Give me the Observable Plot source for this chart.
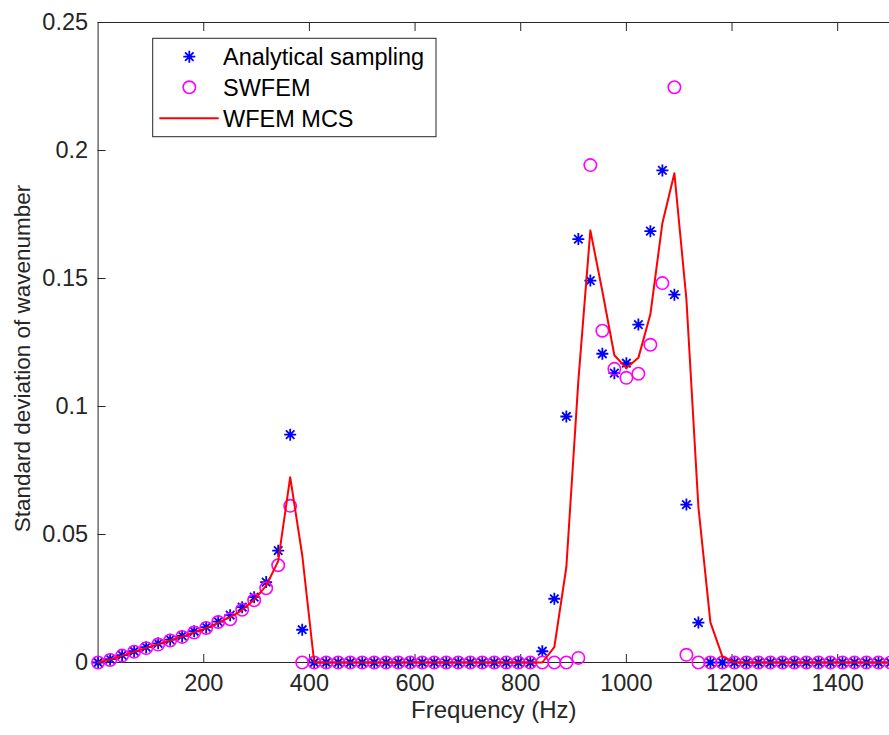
<!DOCTYPE html>
<html><head><meta charset="utf-8">
<script src="https://cdn.jsdelivr.net/npm/d3@7"></script>
<script src="https://cdn.jsdelivr.net/npm/@observablehq/plot@0.6"></script>
<style>
html,body{margin:0;padding:0;background:#fff;}
#chart{position:relative;width:889px;height:735px;overflow:hidden;}
</style></head><body><div id="chart"></div>
<script>
// Frequency grid (Hz)
const freq = [0, 22.73, 45.45, 68.18, 90.91, 113.64, 136.36, 159.09, 181.82, 204.55,
  227.27, 250, 272.73, 295.45, 318.18, 340.91, 363.64, 386.36, 409.09, 431.82,
  454.55, 477.27, 500, 522.73, 545.45, 568.18, 590.91, 613.64, 636.36, 659.09,
  681.82, 704.55, 727.27, 750, 772.73, 795.45, 818.18, 840.91, 863.64, 886.36,
  909.09, 931.82, 954.55, 977.27, 1000, 1022.73, 1045.45, 1068.18, 1090.91, 1113.64,
  1136.36, 1159.09, 1181.82, 1204.55, 1227.27, 1250, 1272.73, 1295.45, 1318.18, 1340.91,
  1363.64, 1386.36, 1409.09, 1431.82, 1454.55, 1477.27, 1500];

// Analytical sampling (blue asterisks)
const analytical = [0, 0.0013, 0.0029, 0.0044, 0.006, 0.0075, 0.0089, 0.0104, 0.0122, 0.0138,
  0.016, 0.0185, 0.0216, 0.0255, 0.0314, 0.0437, 0.089, 0.0128,
  0, 0, 0, 0, 0, 0, 0, 0, 0, 0, 0, 0, 0, 0, 0, 0, 0, 0, 0,
  0.0044, 0.0249, 0.0961, 0.1654, 0.1492, 0.1206, 0.113, 0.1169, 0.132, 0.1685,
  0.1922, 0.1437, 0.0617, 0.0156,
  0, 0, 0, 0, 0, 0, 0, 0, 0, 0, 0, 0, 0, 0, 0, 0];

// SWFEM (magenta circles)
const swfem = [0, 0.001, 0.0027, 0.0042, 0.0056, 0.007, 0.0086, 0.01, 0.0117, 0.0135,
  0.0158, 0.0169, 0.0206, 0.0243, 0.029, 0.038, 0.0612, 0,
  0, 0, 0, 0, 0, 0, 0, 0, 0, 0, 0, 0, 0, 0, 0, 0, 0, 0, 0, 0, 0, 0,
  0.0018, 0.1943, 0.1296, 0.1147, 0.1112, 0.1128, 0.1241, 0.1482, 0.2247, 0.003,
  0, 0, 0, 0, 0, 0, 0, 0, 0, 0, 0, 0, 0, 0, 0, 0, 0];

// WFEM MCS (red line)
const wfemMCS = [0, 0.0012, 0.0027, 0.0042, 0.0057, 0.0071, 0.0086, 0.0101, 0.0117, 0.0134,
  0.0155, 0.0177, 0.0205, 0.0245, 0.03, 0.0396, 0.0724, 0.042,
  0, 0, 0, 0, 0, 0, 0, 0, 0, 0, 0, 0, 0, 0, 0, 0, 0, 0, 0, 0,
  0.006, 0.0372, 0.11, 0.1688, 0.145, 0.12, 0.115, 0.119, 0.136, 0.1716,
  0.1911, 0.142, 0.0607, 0.0157, 0.0023,
  0, 0, 0, 0, 0, 0, 0, 0, 0, 0, 0, 0, 0, 0];

const xTicks = [200, 400, 600, 800, 1000, 1200, 1400];
const xTickLabels = ["200", "400", "600", "800", "1000", "1200", "1400"];
const yTicks = [0, 0.05, 0.1, 0.15, 0.2, 0.25];
const yTickLabels = ["0", "0.05", "0.1", "0.15", "0.2", "0.25"];
const seriesNames = ["Analytical sampling", "SWFEM", "WFEM MCS"];
const xLabel = "Frequency (Hz)";
const yLabel = "Standard deviation of wavenumber";

const rows = freq.map((f, i) => ({f, a: analytical[i], s: swfem[i], w: wfemMCS[i]}));

const asterisk = {
  draw(context, size) {
    const r = Math.sqrt(size / Math.PI);
    const d = r * Math.SQRT1_2;
    context.moveTo(-r, 0); context.lineTo(r, 0);
    context.moveTo(0, -r); context.lineTo(0, r);
    context.moveTo(-d, -d); context.lineTo(d, d);
    context.moveTo(-d, d); context.lineTo(d, -d);
  }
};

const font = "'Liberation Sans', Arial, Helvetica, sans-serif";
const axisColor = "#262626";
const FS = 23.5;

const plot = Plot.plot({
  width: 889, height: 735,
  marginLeft: 97.6, marginRight: 0, marginTop: 22, marginBottom: 73,
  style: {fontFamily: font, fontSize: FS + "px", color: axisColor, background: "white", overflow: "visible"},
  x: {domain: [0, 1500], range: [97.6, 890]},
  y: {domain: [0, 0.25]},
  marks: [
    Plot.frame({stroke: axisColor, strokeWidth: 1}),
    Plot.axisX({anchor: "bottom", ticks: xTicks, tickSize: -8, text: null, label: null, stroke: axisColor}),
    Plot.axisX({anchor: "top", ticks: xTicks, tickSize: -8, text: null, label: null, stroke: axisColor}),
    Plot.axisX({anchor: "bottom", ticks: xTicks, tickSize: 0, tickPadding: 12, label: null,
      tickFormat: d => xTickLabels[xTicks.indexOf(d)], fill: axisColor, fontSize: FS}),
    Plot.axisY({anchor: "left", ticks: yTicks, tickSize: -8, text: null, label: null, stroke: axisColor}),
    Plot.axisY({anchor: "left", ticks: yTicks, tickSize: 0, tickPadding: 10, label: null,
      tickFormat: d => yTickLabels[yTicks.indexOf(d)], fill: axisColor, fontSize: FS}),
    Plot.text([xLabel], {frameAnchor: "bottom", dy: 38, lineAnchor: "top", textAnchor: "middle", fill: axisColor, fontSize: 24}),
    Plot.text([yLabel], {frameAnchor: "left", rotate: -90, dx: -75, dy: 16, lineAnchor: "middle", textAnchor: "middle", fill: axisColor, fontSize: 22.5}),
    Plot.dot(rows, {x: "f", y: "a", symbol: asterisk, r: 6, stroke: "#0000ff", strokeWidth: 1.8, fill: "none"}),
    Plot.dot(rows, {x: "f", y: "s", symbol: "circle", r: 6.2, stroke: "#ff00ff", strokeWidth: 1.6, fill: "none"}),
    Plot.line(rows, {x: "f", y: "w", stroke: "#ff0000", strokeWidth: 2, curve: "linear"})
  ]
});

document.getElementById("chart").appendChild(plot);

// Legend box (upper left inside the axes)
const svg = d3.select(plot);
const lg = svg.append("g").attr("font-family", font).attr("font-size", FS).attr("text-anchor", "start");
const lx = 152.7, ly = 38.3, lw = 283.3, lh = 98.4;
lg.append("rect").attr("x", lx).attr("y", ly).attr("width", lw).attr("height", lh)
  .attr("fill", "white").attr("stroke", axisColor).attr("stroke-width", 1);
const rowY = [56.7, 87.3, 118.3];
const symX = 189.3, textX = 223;
const ar = 6, ad = ar * Math.SQRT1_2;
lg.append("path")
  .attr("d", `M${symX - ar},${rowY[0]}L${symX + ar},${rowY[0]}M${symX},${rowY[0] - ar}L${symX},${rowY[0] + ar}` +
    `M${symX - ad},${rowY[0] - ad}L${symX + ad},${rowY[0] + ad}M${symX - ad},${rowY[0] + ad}L${symX + ad},${rowY[0] - ad}`)
  .attr("stroke", "#0000ff").attr("stroke-width", 1.8).attr("fill", "none");
lg.append("circle").attr("cx", symX).attr("cy", rowY[1]).attr("r", 6.2)
  .attr("stroke", "#ff00ff").attr("stroke-width", 1.6).attr("fill", "none");
lg.append("line").attr("x1", 159.3).attr("x2", 218.7).attr("y1", rowY[2]).attr("y2", rowY[2])
  .attr("stroke", "#ff0000").attr("stroke-width", 2);
seriesNames.forEach((name, i) => {
  lg.append("text").attr("x", textX).attr("y", rowY[i] + 8.4).attr("fill", "#000")
    .attr("text-anchor", "start").text(name);
});
</script>
</body></html>
